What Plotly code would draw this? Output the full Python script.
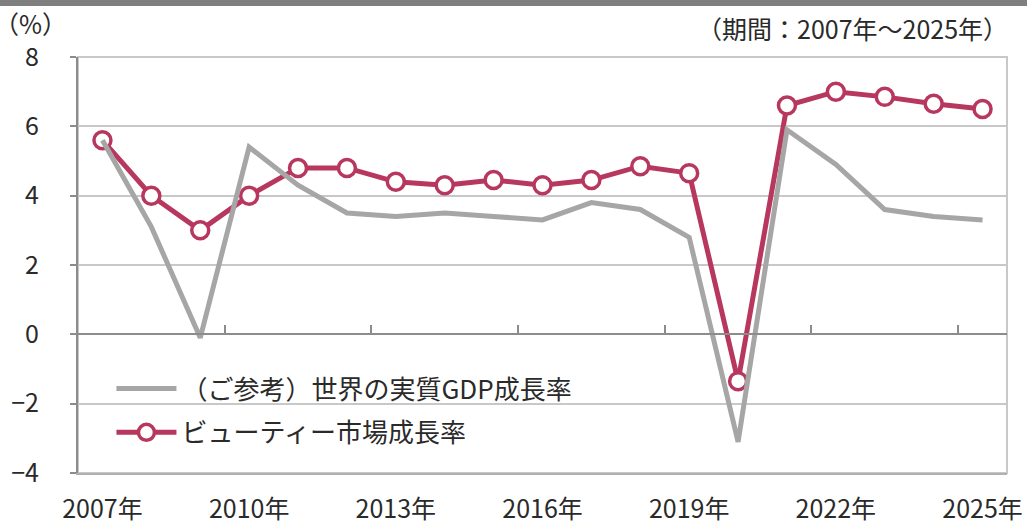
import plotly.graph_objects as go

years = list(range(2007, 2026))
gdp_growth = [5.6, 3.1, -0.1, 5.4, 4.3, 3.5, 3.4, 3.5, 3.4, 3.3, 3.8, 3.6, 2.8,
              -3.1, 5.9, 4.9, 3.6, 3.4, 3.3]
beauty_growth = [5.6, 4.0, 3.0, 4.0, 4.8, 4.8, 4.4, 4.3, 4.45, 4.3, 4.45, 4.85, 4.65,
                 -1.35, 6.6, 7.0, 6.85, 6.65, 6.5]
y_ticks = [8, 6, 4, 2, 0, -2, -4]
x_tick_years = years[::3]
series_names = ["（ご参考）世界の実質GDP成長率", "ビューティー市場成長率"]

PINK = "#b7375f"
GRAY = "#a6a6a6"
FONT = "Noto Sans CJK JP"

fig = go.Figure()
fig.add_trace(go.Scatter(
    x=years, y=gdp_growth, name=series_names[0], mode="lines",
    line=dict(color=GRAY, width=5), xaxis="x2", legendgroup="a",
))
fig.add_trace(go.Scatter(
    x=years, y=beauty_growth, name=series_names[1], mode="lines+markers",
    line=dict(color=PINK, width=5),
    marker=dict(size=17, color="white", line=dict(color=PINK, width=3.5)),
    legendgroup="b",
))

xr = [years[0] - 0.5, years[-1] + 0.5]
fig.update_layout(
    width=1027, height=522,
    margin=dict(l=78, r=20, t=57, b=49, autoexpand=False),
    paper_bgcolor="white", plot_bgcolor="white",
    font=dict(family=FONT, size=24, color="#2a2a2a"),
    showlegend=True,
    legend=dict(x=0.036, y=0.15, xanchor="left", yanchor="middle",
                bgcolor="rgba(0,0,0,0)", font=dict(size=26, family=FONT),
                traceorder="grouped", tracegroupgap=7, itemwidth=60),
    xaxis=dict(range=xr, tickvals=x_tick_years,
               ticktext=[f"{y}年" for y in x_tick_years],
               showgrid=False, zeroline=False, showline=True,
               linecolor="#b0b0b0", linewidth=2, ticks="",
               ticklabelstandoff=13, automargin=False,
               tickfont=dict(size=25, family=FONT)),
    xaxis2=dict(range=xr, overlaying="x", anchor="free",
                position=(0 - y_ticks[-1]) / (y_ticks[0] - y_ticks[-1]),
                tickvals=[y + 0.5 for y in years[2::3]][:6],
                ticks="inside", ticklen=8, tickwidth=2, tickcolor="#8c8c8c",
                showticklabels=False, showgrid=False, zeroline=False,
                showline=True, linecolor="#8c8c8c", linewidth=2,
                automargin=False),
    yaxis=dict(range=[y_ticks[-1], y_ticks[0]], tickvals=y_ticks,
               ticktext=[str(v).replace("-", "−") for v in y_ticks],
               showgrid=True, gridcolor="#c8c8c8", gridwidth=2,
               zeroline=False, showline=True, linecolor="#8c8c8c", linewidth=2,
               ticks="outside", ticklen=6, tickcolor="#8c8c8c", tickwidth=2,
               ticklabelstandoff=26, automargin=False,
               tickfont=dict(size=25, family=FONT)),
    shapes=[
        dict(type="rect", xref="paper", yref="paper", x0=0, x1=1, y0=0, y1=1,
             line=dict(color="#c8c8c8", width=2), layer="below"),
        dict(type="rect", xref="paper", yref="paper", x0=-0.09, x1=1.03,
             y0=1 + 51 / 416, y1=1 + 57 / 416, fillcolor="#7f7f7f",
             line=dict(width=0)),
    ],
    annotations=[
        dict(text="（%）", xref="paper", yref="paper", x=-0.093, y=1.082,
             xanchor="left", yanchor="middle", showarrow=False,
             font=dict(size=25, family=FONT)),
        dict(text="（期間：2007年～2025年）", xref="paper", yref="paper",
             x=1.003, y=1.07, xanchor="right", yanchor="middle",
             showarrow=False, font=dict(size=25, family=FONT)),
    ],
)

fig.write_html("out.html", config={"displayModeBar": False},
               post_script="document.body.style.margin='0';")
